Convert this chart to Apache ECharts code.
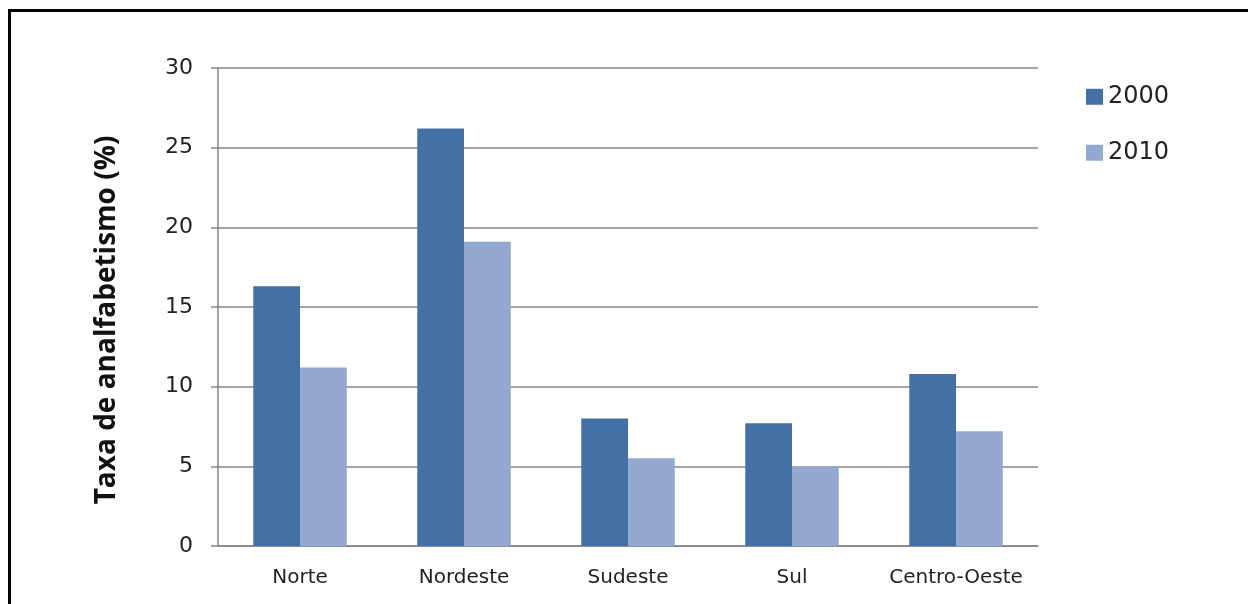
<html>
<head>
<title>Taxa de analfabetismo</title>
<script src="https://cdn.jsdelivr.net/npm/echarts@6/dist/echarts.min.js"></script>
<style>
    body{
      margin:0;
      background:#fff;
    }
    #frame{
      position:absolute;
      left:8px;
      top:9px;
      width:1240px;
      height:595px;
      border-left:3px solid #000;
      border-top:3px solid #000;
    }
    #container{
      position:absolute;
      left:0;
      top:0;
      width:1248px;
      height:604px;
    }
</style>
</head>
<body>
    <div id="frame"></div>
    <div id="container"></div>
<script type="text/javascript">
    var regioes = ['Norte', 'Nordeste', 'Sudeste', 'Sul', 'Centro-Oeste'];
    var anos = ['2000', '2010'];
    var taxa2000 = [16.3, 26.2, 8.0, 7.7, 10.8];
    var taxa2010 = [11.2, 19.1, 5.5, 5.0, 7.2];
    var cores = ['#4470a6', '#93a9cf'];

    // one legend box per year, so each one can be placed on its own
    function legenda(ano, topo){
      return {
        left: 1086,
        top: topo,
        padding: 0,
        icon: 'rect',
        itemWidth: 17,
        itemHeight: 16,
        data: [ano],
        textStyle: {
          fontFamily: 'DejaVu Sans',
          fontSize: 24,
          color: '#222'
        }
      };
    }

    var dom = document.getElementById("container");
    var myChart = echarts.init(dom);
    var option = {
      animation: false,
      grid: {
        left: 218,
        right: 210,
        top: 68,
        bottom: 58
      },
      legend: [legenda(anos[0], 73), legenda(anos[1], 129)],
      xAxis: {
        type: 'category',
        data: regioes,
        axisLine: { lineStyle: { color: '#868686', width: 1.5 } },
        axisTick: { length: 7, lineStyle: { color: '#868686', width: 1.5 } },
        axisLabel: {
          interval: 0,
          margin: 12,
          fontFamily: 'DejaVu Sans',
          fontSize: 20,
          color: '#222'
        }
      },
      yAxis: {
        type: 'value',
        min: 0,
        max: 30,
        interval: 5,
        name: 'Taxa de analfabetismo (%)',
        nameLocation: 'middle',
        nameGap: 85,
        nameTextStyle: {
          fontFamily: 'Open Sans',
          fontWeight: 'bold',
          fontSize: 28,
          color: '#111',
          padding: [0, 26, 0, 0]
        },
        axisLine: { show: true, lineStyle: { color: '#868686', width: 1.5 } },
        axisTick: { show: true, length: 7, lineStyle: { color: '#868686', width: 1.5 } },
        axisLabel: {
          margin: 25,
          fontFamily: 'DejaVu Sans',
          fontSize: 22,
          color: '#222'
        },
        splitLine: { lineStyle: { color: '#868686', width: 1.5 } }
      },
      series: [
        {
          name: anos[0],
          type: 'bar',
          data: taxa2000,
          barGap: '0%',
          barCategoryGap: '43%',
          itemStyle: { color: cores[0] }
        },
        {
          name: anos[1],
          type: 'bar',
          data: taxa2010,
          barGap: '0%',
          barCategoryGap: '43%',
          itemStyle: { color: cores[1] }
        }
      ]
    };
    myChart.setOption(option);
</script>
</body>
</html>
